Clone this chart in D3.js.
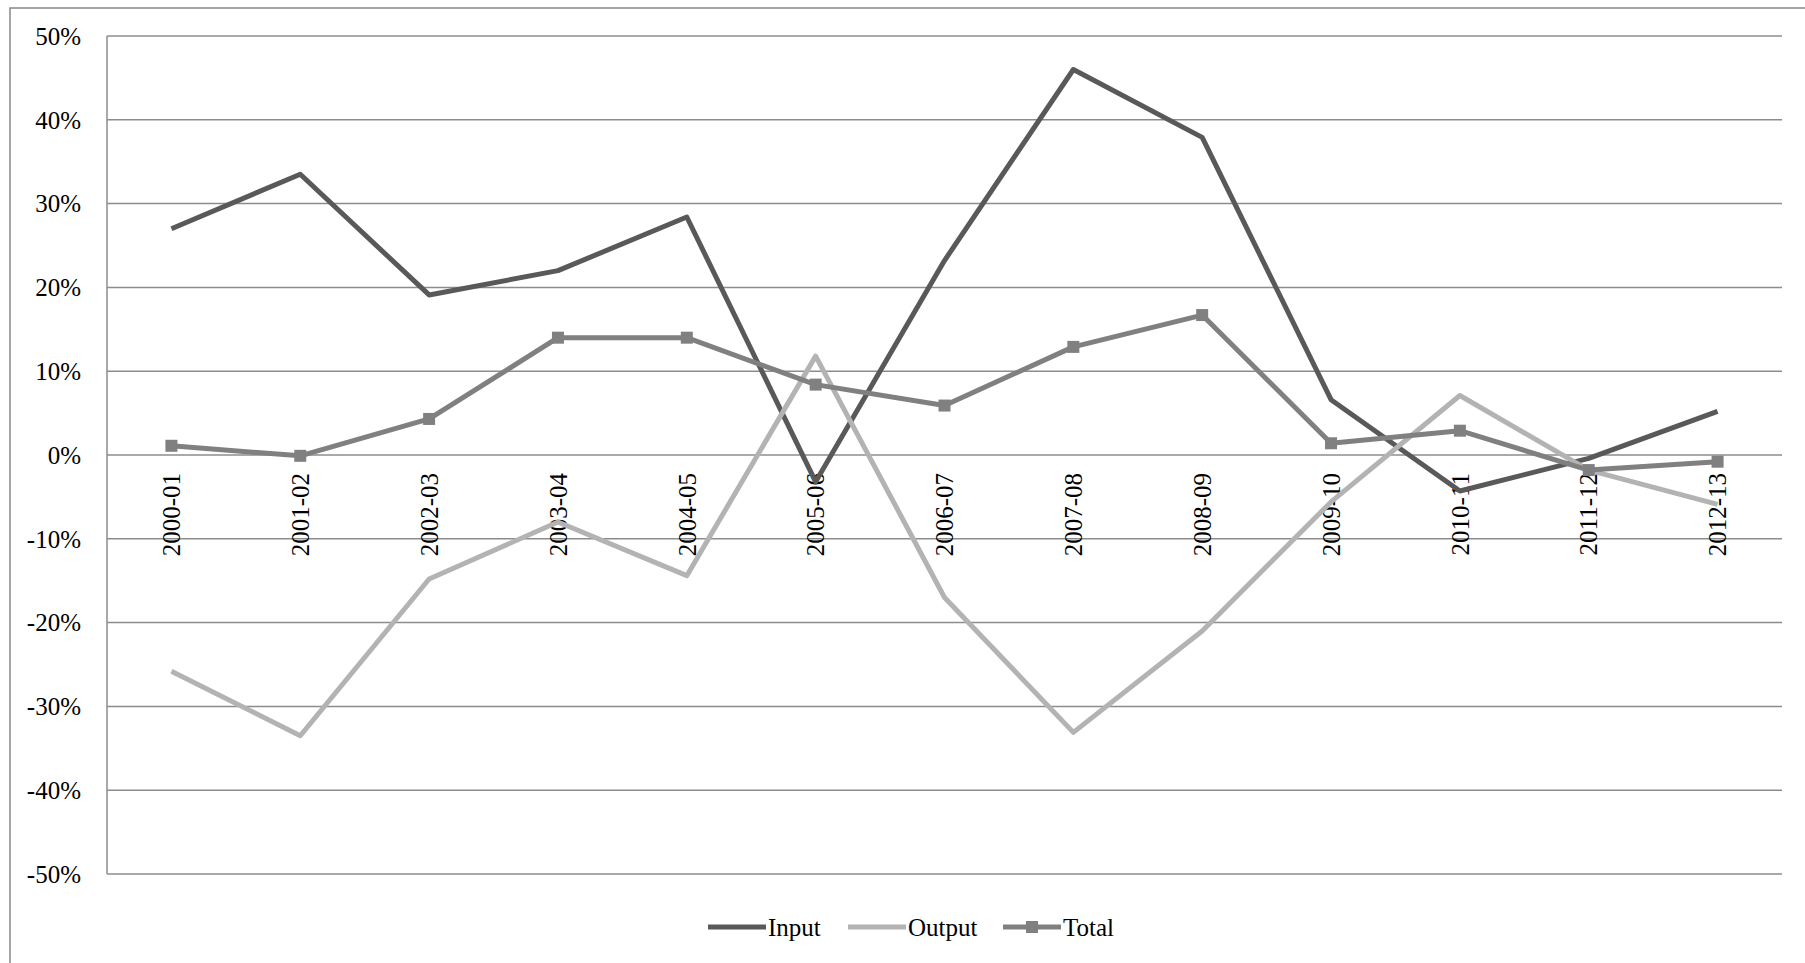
<!DOCTYPE html>
<html><head><meta charset="utf-8">
<script src="https://cdn.jsdelivr.net/npm/d3@7"></script>
<style>body{margin:0;background:#fff}svg{display:block}text{font-family:'Liberation Serif','Times New Roman',serif}</style>
</head><body>
<script>
const categories = ["2000-01","2001-02","2002-03","2003-04","2004-05","2005-06","2006-07","2007-08","2008-09","2009-10","2010-11","2011-12","2012-13"];
const inputVals  = [27.0,33.5,19.1,22.0,28.4,-3.2,23.2,46.0,37.9,6.6,-4.3,-0.4,5.2];
const outputVals = [-25.8,-33.5,-14.8,-8.0,-14.4,11.8,-17.0,-33.1,-21.0,-5.6,7.1,-1.8,-5.9];
const totalVals  = [1.1,-0.1,4.3,14.0,14.0,8.4,5.9,12.9,16.7,1.4,2.9,-1.8,-0.8];
const yTicks = [-50,-40,-30,-20,-10,0,10,20,30,40,50];

const W=1805,H=963;
const svg=d3.select("body").append("svg").attr("width",W).attr("height",H);
svg.append("path").attr("d",`M10,${H}V8H${W}`).attr("fill","none").attr("stroke","#888").attr("stroke-width",1.5);

const L=107,R=1782,T=36,B=874;
const x=d3.scaleBand().domain(categories).range([L,R]);
const y=d3.scaleLinear().domain([-50,50]).range([B,T]);
const cx=c=>x(c)+x.bandwidth()/2;
const FS=25;

svg.append("g").selectAll("line").data(yTicks).join("line")
  .attr("x1",L).attr("x2",R).attr("y1",d=>y(d)).attr("y2",d=>y(d))
  .attr("stroke","#8c8c8c").attr("stroke-width",1.5);
svg.append("line").attr("x1",L).attr("x2",L).attr("y1",T).attr("y2",B).attr("stroke","#8c8c8c").attr("stroke-width",1.5);
svg.append("g").selectAll("text").data(yTicks).join("text")
  .attr("x",L-26).attr("y",d=>y(d)).attr("dy","0.35em").attr("text-anchor","end")
  .attr("font-size",FS).text(d=>d+"%");
svg.append("g").selectAll("text").data(categories).join("text")
  .attr("transform",c=>`translate(${cx(c)},${y(0)+18}) rotate(-90)`)
  .attr("text-anchor","end").attr("dy","0.35em").attr("font-size",FS).text(c=>c);

const series=[
  {name:"Input",vals:inputVals,color:"#595959",marker:false},
  {name:"Output",vals:outputVals,color:"#b3b3b3",marker:false},
  {name:"Total",vals:totalVals,color:"#808080",marker:true}];
const line=d3.line().x((d,i)=>cx(categories[i])).y(d=>y(d));
series.forEach(s=>{
  svg.append("path").attr("d",line(s.vals)).attr("fill","none").attr("stroke",s.color)
    .attr("stroke-width",5).attr("stroke-linejoin","round");
  if(s.marker) svg.append("g").selectAll("rect").data(s.vals).join("rect")
    .attr("x",(d,i)=>cx(categories[i])-6).attr("y",d=>y(d)-6).attr("width",12).attr("height",12).attr("fill",s.color);
});
const lg=svg.append("g");
const starts=[708,848,1003];
series.forEach((s,i)=>{
  const g=lg.append("g").attr("transform",`translate(${starts[i]},927)`);
  g.append("line").attr("x1",0).attr("x2",58).attr("stroke",s.color).attr("stroke-width",5);
  if(s.marker) g.append("rect").attr("x",23).attr("y",-6).attr("width",12).attr("height",12).attr("fill",s.color);
  g.append("text").attr("x",60).attr("dy","0.35em").attr("font-size",FS).text(s.name);
});
</script>
</body></html>
